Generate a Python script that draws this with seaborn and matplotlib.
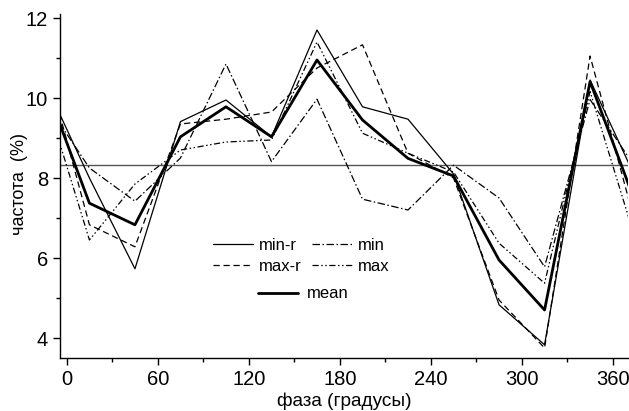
import numpy as np
import pandas as pd
import matplotlib
matplotlib.use("Agg")
import matplotlib.pyplot as plt
import seaborn as sns
from matplotlib.ticker import MultipleLocator

# ---- data ----
phase = [15, 45, 75, 105, 135, 165, 195, 225, 255, 285, 315, 345]
min_r = [8.0, 5.73, 9.41, 9.95, 9.03, 11.7, 9.78, 9.47, 8.1, 4.83, 3.83, 10.45]
max_r = [6.83, 6.28, 9.35, 9.47, 9.65, 10.75, 11.33, 8.62, 8.0, 4.95, 3.75, 11.05]
min_v = [8.25, 7.42, 8.5, 10.85, 8.41, 9.97, 7.47, 7.2, 8.32, 7.5, 5.78, 9.96]
max_v = [6.45, 7.85, 8.7, 8.9, 8.95, 11.4, 9.12, 8.62, 8.15, 6.37, 5.37, 10.16]
mean_v = [7.37, 6.83, 9.03, 9.78, 9.03, 10.95, 9.45, 8.49, 8.05, 5.95, 4.7, 10.41]
uniform_level = 100 / 12
labels = ["min-r", "max-r", "min", "max", "mean"]
x_ticks = [0, 60, 120, 180, 240, 300, 360]
y_ticks = [4, 6, 8, 10, 12]


def wrap(x, y):
    # periodic continuation: the last bin is repeated before 0, the first after 360
    xx = [x[-1] - 360] + list(x) + [x[0] + 360]
    yy = [y[-1]] + list(y) + [y[0]]
    return xx, yy


sns.set_style("ticks")
plt.rcParams["font.family"] = ["Liberation Sans", "DejaVu Sans"]
plt.rcParams["text.color"] = "black"
plt.rcParams["axes.labelcolor"] = "black"
plt.rcParams["xtick.color"] = "black"
plt.rcParams["ytick.color"] = "black"
narrow = ["Liberation Sans Narrow", "Liberation Sans", "DejaVu Sans"]

fig = plt.figure(figsize=(6.29, 4.11), dpi=100)
ax = fig.add_axes([60 / 629, 1 - 358 / 411, 568 / 629, (358 - 14) / 411])

styles = {
    "min-r": dict(linestyle="-", lw=0.9),
    "max-r": dict(linestyle=(0, (5, 3)), lw=0.9),
    "min": dict(linestyle=(0, (6, 2, 1.2, 2)), lw=0.9),
    "max": dict(linestyle=(0, (5, 2, 1.2, 2, 1.2, 2)), lw=0.9),
    "mean": dict(linestyle="-", lw=2.0),
}
series = {"min-r": min_r, "max-r": max_r, "min": min_v, "max": max_v, "mean": mean_v}

ax.axhline(uniform_level, color="#555555", lw=1.0, zorder=1)

handles = {}
for name in labels:
    xx, yy = wrap(phase, series[name])
    df = pd.DataFrame({"x": xx, "y": yy})
    sns.lineplot(data=df, x="x", y="y", ax=ax, color="black", sort=False,
                 errorbar=None, **styles[name])
    handles[name] = ax.get_lines()[-1]

ax.set_xlim(-4.4, 370)
ax.set_ylim(3.5, 12.1)
ax.set_xticks(x_ticks)
ax.set_yticks(y_ticks)
ax.xaxis.set_minor_locator(MultipleLocator(30))
ax.yaxis.set_minor_locator(MultipleLocator(1))
ax.tick_params(which="major", length=5, width=1, color="black", labelcolor="black")
ax.tick_params(which="minor", length=3, width=1, color="black")
for lab in ax.get_xticklabels() + ax.get_yticklabels():
    lab.set_fontfamily(narrow)
    lab.set_fontsize(14.5)
for s in ["top", "right"]:
    ax.spines[s].set_visible(False)
for s in ["left", "bottom"]:
    ax.spines[s].set_color("black")
    ax.spines[s].set_linewidth(1)

ax.set_xlabel("фаза (градусы)", fontsize=13.7, color="black")
ax.set_ylabel("частота  (%)", fontsize=13, color="black")
ax.xaxis.set_label_coords(0.5, -0.1)
ax.yaxis.set_label_coords(-0.057, 0.505)

leg1 = ax.legend([handles[n] for n in ["min-r", "max-r", "min", "max"]],
                 ["min-r", "max-r", "min", "max"], ncol=2, frameon=False,
                 fontsize=12, handlelength=2.4, handletextpad=0.35,
                 columnspacing=0.6, labelspacing=0.35,
                 loc="upper left", bbox_to_anchor=(205 / 629, 1 - 230 / 411),
                 bbox_transform=fig.transFigure, borderpad=0)
ax.add_artist(leg1)
ax.legend([handles["mean"]], ["mean"], frameon=False, fontsize=12,
          handlelength=2.4, handletextpad=0.5, loc="upper left",
          bbox_to_anchor=(250 / 629, 1 - 278 / 411),
          bbox_transform=fig.transFigure, borderpad=0)

fig.savefig("out.png", dpi=100)
